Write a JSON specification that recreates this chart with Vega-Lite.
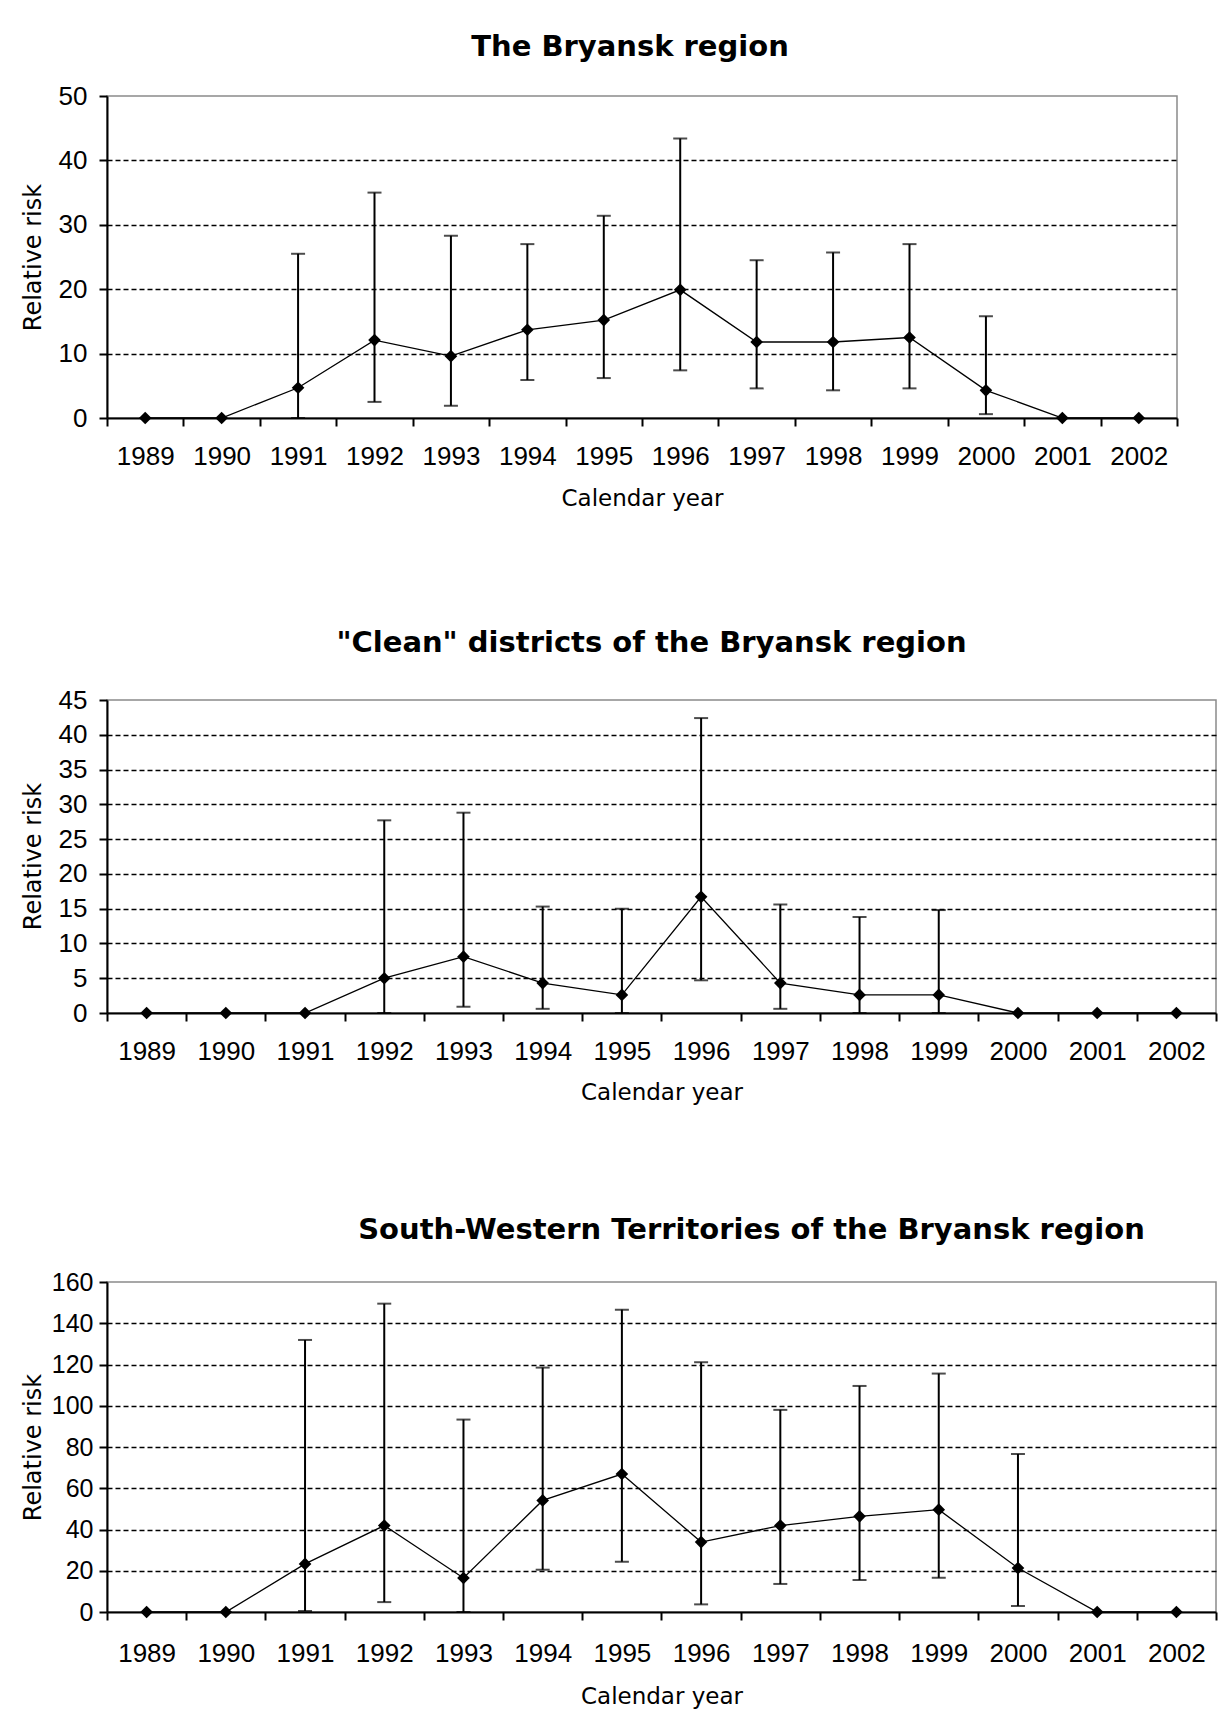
{
  "$schema": "https://vega.github.io/schema/vega-lite/v6.json",
  "background": "white",
  "padding": {"left": 20, "top": 32, "right": 5, "bottom": 5},
  "datasets": {
    "p1": [
      {"year": "1989", "rr": 0, "lo": null, "hi": null},
      {"year": "1990", "rr": 0, "lo": null, "hi": null},
      {"year": "1991", "rr": 4.7, "lo": 0, "hi": 25.5},
      {"year": "1992", "rr": 12.1, "lo": 2.5, "hi": 35.0},
      {"year": "1993", "rr": 9.6, "lo": 1.9, "hi": 28.3},
      {"year": "1994", "rr": 13.7, "lo": 5.9, "hi": 27.0},
      {"year": "1995", "rr": 15.2, "lo": 6.2, "hi": 31.4},
      {"year": "1996", "rr": 19.9, "lo": 7.4, "hi": 43.4},
      {"year": "1997", "rr": 11.8, "lo": 4.6, "hi": 24.5},
      {"year": "1998", "rr": 11.8, "lo": 4.3, "hi": 25.7},
      {"year": "1999", "rr": 12.5, "lo": 4.6, "hi": 27.0},
      {"year": "2000", "rr": 4.3, "lo": 0.6, "hi": 15.8},
      {"year": "2001", "rr": 0, "lo": null, "hi": null},
      {"year": "2002", "rr": 0, "lo": null, "hi": null}
    ],
    "p2": [
      {"year": "1989", "rr": 0, "lo": null, "hi": null},
      {"year": "1990", "rr": 0, "lo": null, "hi": null},
      {"year": "1991", "rr": 0, "lo": null, "hi": null},
      {"year": "1992", "rr": 5.0, "lo": 0, "hi": 27.7},
      {"year": "1993", "rr": 8.1, "lo": 0.9, "hi": 28.8},
      {"year": "1994", "rr": 4.3, "lo": 0.6, "hi": 15.3},
      {"year": "1995", "rr": 2.6, "lo": 0, "hi": 15.0},
      {"year": "1996", "rr": 16.7, "lo": 4.7, "hi": 42.4},
      {"year": "1997", "rr": 4.3, "lo": 0.6, "hi": 15.6},
      {"year": "1998", "rr": 2.6, "lo": 0, "hi": 13.8},
      {"year": "1999", "rr": 2.6, "lo": 0, "hi": 14.8},
      {"year": "2000", "rr": 0, "lo": null, "hi": null},
      {"year": "2001", "rr": 0, "lo": null, "hi": null},
      {"year": "2002", "rr": 0, "lo": null, "hi": null}
    ],
    "p3": [
      {"year": "1989", "rr": 0, "lo": null, "hi": null},
      {"year": "1990", "rr": 0, "lo": null, "hi": null},
      {"year": "1991", "rr": 23.3, "lo": 0.5, "hi": 131.9},
      {"year": "1992", "rr": 41.9, "lo": 4.8, "hi": 149.5},
      {"year": "1993", "rr": 16.5, "lo": 0, "hi": 93.3},
      {"year": "1994", "rr": 54.1, "lo": 20.5, "hi": 118.5},
      {"year": "1995", "rr": 66.9, "lo": 24.4, "hi": 146.6},
      {"year": "1996", "rr": 33.9, "lo": 3.7, "hi": 121.1},
      {"year": "1997", "rr": 41.9, "lo": 13.6, "hi": 98.0},
      {"year": "1998", "rr": 46.4, "lo": 15.5, "hi": 109.6},
      {"year": "1999", "rr": 49.6, "lo": 16.6, "hi": 115.6},
      {"year": "2000", "rr": 21.3, "lo": 2.9, "hi": 76.6},
      {"year": "2001", "rr": 0, "lo": null, "hi": null},
      {"year": "2002", "rr": 0, "lo": null, "hi": null}
    ]
  },
  "bounds": "flush",
  "spacing": 282,
  "vconcat": [
    {
      "width": 1070,
      "height": 322,
      "title": {"text": "The Bryansk region", "offset": 21, "dx": -12},
      "data": {"name": "p1"},
      "encoding": {
        "x": {"field": "year", "type": "ordinal", "scale": {"type": "band", "paddingInner": 0, "paddingOuter": 0},
              "axis": {"title": "Calendar year", "titleY": 80}}
      },
      "layer": [
        {"mark": {"type": "rule", "color": "black", "strokeWidth": 2},
         "encoding": {"y": {"field": "lo", "type": "quantitative", "scale": {"domain": [0, 50], "nice": false, "zero": true},
                            "axis": {"title": "Relative risk", "values": [0, 10, 20, 30, 40, 50], "titleY": 161,
                                     "gridOpacity": {"condition": {"test": "datum.value == 0 || datum.value == 50", "value": 0}, "value": 1}}},
                      "y2": {"field": "hi"}}},
        {"mark": {"type": "tick", "color": "black", "size": 14, "thickness": 2, "orient": "horizontal"},
         "encoding": {"y": {"field": "hi", "type": "quantitative",
                            "axis": {"title": "Relative risk", "values": [0, 10, 20, 30, 40, 50], "titleY": 161,
                                     "gridOpacity": {"condition": {"test": "datum.value == 0 || datum.value == 50", "value": 0}, "value": 1}}}}},
        {"mark": {"type": "tick", "color": "black", "size": 14, "thickness": 2, "orient": "horizontal"},
         "encoding": {"y": {"field": "lo", "type": "quantitative",
                            "axis": {"title": "Relative risk", "values": [0, 10, 20, 30, 40, 50], "titleY": 161,
                                     "gridOpacity": {"condition": {"test": "datum.value == 0 || datum.value == 50", "value": 0}, "value": 1}}}}},
        {"mark": {"type": "line", "color": "black", "strokeWidth": 1.3},
         "encoding": {"y": {"field": "rr", "type": "quantitative",
                            "axis": {"title": "Relative risk", "values": [0, 10, 20, 30, 40, 50], "titleY": 161,
                                     "gridOpacity": {"condition": {"test": "datum.value == 0 || datum.value == 50", "value": 0}, "value": 1}}}}},
        {"mark": {"type": "point", "shape": "diamond", "filled": true, "size": 160, "color": "black", "opacity": 1},
         "encoding": {"y": {"field": "rr", "type": "quantitative",
                            "axis": {"title": "Relative risk", "values": [0, 10, 20, 30, 40, 50], "titleY": 161,
                                     "gridOpacity": {"condition": {"test": "datum.value == 0 || datum.value == 50", "value": 0}, "value": 1}}}}}
      ]
    },
    {
      "bounds": "flush",
      "spacing": 269,
      "vconcat": [
        {
          "width": 1109,
          "height": 313,
          "title": {"text": "\"Clean\" districts of the Bryansk region", "offset": 29, "dx": -10},
          "data": {"name": "p2"},
          "encoding": {
            "x": {"field": "year", "type": "ordinal", "scale": {"type": "band", "paddingInner": 0, "paddingOuter": 0},
                  "axis": {"title": "Calendar year", "titleY": 79}}
          },
          "layer": [
            {"mark": {"type": "rule", "color": "black", "strokeWidth": 2},
             "encoding": {"y": {"field": "lo", "type": "quantitative", "scale": {"domain": [0, 45], "nice": false, "zero": true},
                                "axis": {"title": "Relative risk", "values": [0, 5, 10, 15, 20, 25, 30, 35, 40, 45], "titleY": 156,
                                         "gridOpacity": {"condition": {"test": "datum.value == 0 || datum.value == 45", "value": 0}, "value": 1}}},
                          "y2": {"field": "hi"}}},
            {"mark": {"type": "tick", "color": "black", "size": 14, "thickness": 2, "orient": "horizontal"},
             "encoding": {"y": {"field": "hi", "type": "quantitative",
                                "axis": {"title": "Relative risk", "values": [0, 5, 10, 15, 20, 25, 30, 35, 40, 45], "titleY": 156,
                                         "gridOpacity": {"condition": {"test": "datum.value == 0 || datum.value == 45", "value": 0}, "value": 1}}}}},
            {"mark": {"type": "tick", "color": "black", "size": 14, "thickness": 2, "orient": "horizontal"},
             "encoding": {"y": {"field": "lo", "type": "quantitative",
                                "axis": {"title": "Relative risk", "values": [0, 5, 10, 15, 20, 25, 30, 35, 40, 45], "titleY": 156,
                                         "gridOpacity": {"condition": {"test": "datum.value == 0 || datum.value == 45", "value": 0}, "value": 1}}}}},
            {"mark": {"type": "line", "color": "black", "strokeWidth": 1.3},
             "encoding": {"y": {"field": "rr", "type": "quantitative",
                                "axis": {"title": "Relative risk", "values": [0, 5, 10, 15, 20, 25, 30, 35, 40, 45], "titleY": 156,
                                         "gridOpacity": {"condition": {"test": "datum.value == 0 || datum.value == 45", "value": 0}, "value": 1}}}}},
            {"mark": {"type": "point", "shape": "diamond", "filled": true, "size": 160, "color": "black", "opacity": 1},
             "encoding": {"y": {"field": "rr", "type": "quantitative",
                                "axis": {"title": "Relative risk", "values": [0, 5, 10, 15, 20, 25, 30, 35, 40, 45], "titleY": 156,
                                         "gridOpacity": {"condition": {"test": "datum.value == 0 || datum.value == 45", "value": 0}, "value": 1}}}}}
          ]
        },
        {
          "width": 1109,
          "height": 330,
          "title": {"text": "South-Western Territories of the Bryansk region", "offset": 25, "dx": 90},
          "data": {"name": "p3"},
          "encoding": {
            "x": {"field": "year", "type": "ordinal", "scale": {"type": "band", "paddingInner": 0, "paddingOuter": 0},
                  "axis": {"title": "Calendar year", "titleY": 84, "labelPadding": 33}}
          },
          "layer": [
            {"mark": {"type": "rule", "color": "black", "strokeWidth": 2},
             "encoding": {"y": {"field": "lo", "type": "quantitative", "scale": {"domain": [0, 160], "nice": false, "zero": true},
                                "axis": {"title": "Relative risk", "values": [0, 20, 40, 60, 80, 100, 120, 140, 160], "titleY": 165, "labelPadding": 6, "labelFontSize": 25,
                                         "gridOpacity": {"condition": {"test": "datum.value == 0 || datum.value == 160", "value": 0}, "value": 1}}},
                          "y2": {"field": "hi"}}},
            {"mark": {"type": "tick", "color": "black", "size": 14, "thickness": 2, "orient": "horizontal"},
             "encoding": {"y": {"field": "hi", "type": "quantitative",
                                "axis": {"title": "Relative risk", "values": [0, 20, 40, 60, 80, 100, 120, 140, 160], "titleY": 165, "labelPadding": 6, "labelFontSize": 25,
                                         "gridOpacity": {"condition": {"test": "datum.value == 0 || datum.value == 160", "value": 0}, "value": 1}}}}},
            {"mark": {"type": "tick", "color": "black", "size": 14, "thickness": 2, "orient": "horizontal"},
             "encoding": {"y": {"field": "lo", "type": "quantitative",
                                "axis": {"title": "Relative risk", "values": [0, 20, 40, 60, 80, 100, 120, 140, 160], "titleY": 165, "labelPadding": 6, "labelFontSize": 25,
                                         "gridOpacity": {"condition": {"test": "datum.value == 0 || datum.value == 160", "value": 0}, "value": 1}}}}},
            {"mark": {"type": "line", "color": "black", "strokeWidth": 1.3},
             "encoding": {"y": {"field": "rr", "type": "quantitative",
                                "axis": {"title": "Relative risk", "values": [0, 20, 40, 60, 80, 100, 120, 140, 160], "titleY": 165, "labelPadding": 6, "labelFontSize": 25,
                                         "gridOpacity": {"condition": {"test": "datum.value == 0 || datum.value == 160", "value": 0}, "value": 1}}}}},
            {"mark": {"type": "point", "shape": "diamond", "filled": true, "size": 160, "color": "black", "opacity": 1},
             "encoding": {"y": {"field": "rr", "type": "quantitative",
                                "axis": {"title": "Relative risk", "values": [0, 20, 40, 60, 80, 100, 120, 140, 160], "titleY": 165, "labelPadding": 6, "labelFontSize": 25,
                                         "gridOpacity": {"condition": {"test": "datum.value == 0 || datum.value == 160", "value": 0}, "value": 1}}}}}
          ]
        }
      ]
    }
  ],
  "config": {
    "view": {"stroke": "#8a8a8a", "strokeWidth": 1.5},
    "font": "Liberation Sans",
    "axis": {
      "domainColor": "black", "domainWidth": 2,
      "tickColor": "black", "tickWidth": 2, "tickSize": 8,
      "labelColor": "black", "labelFont": "Liberation Sans", "labelFontSize": 26,
      "titleColor": "black", "titleFontWeight": "normal"
    },
    "axisX": {
      "grid": false, "labelAngle": 0, "tickBand": "extent", "labelBaseline": "middle", "labelPadding": 30,
      "titleFont": "DejaVu Sans", "titleFontSize": 23, "titleBaseline": "middle", "labelFlush": false
    },
    "axisY": {
      "grid": true, "gridColor": "black", "gridDash": [5, 3], "gridWidth": 1.5, "labelPadding": 12,
      "titleFont": "DejaVu Sans", "titleFontSize": 24, "titleAngle": -90, "titleBaseline": "middle",
      "titleAlign": "center", "titleX": -74
    },
    "title": {"font": "DejaVu Sans", "fontSize": 29, "fontWeight": "bold", "color": "black", "frame": "group", "baseline": "middle", "anchor": "middle"}
  }
}
